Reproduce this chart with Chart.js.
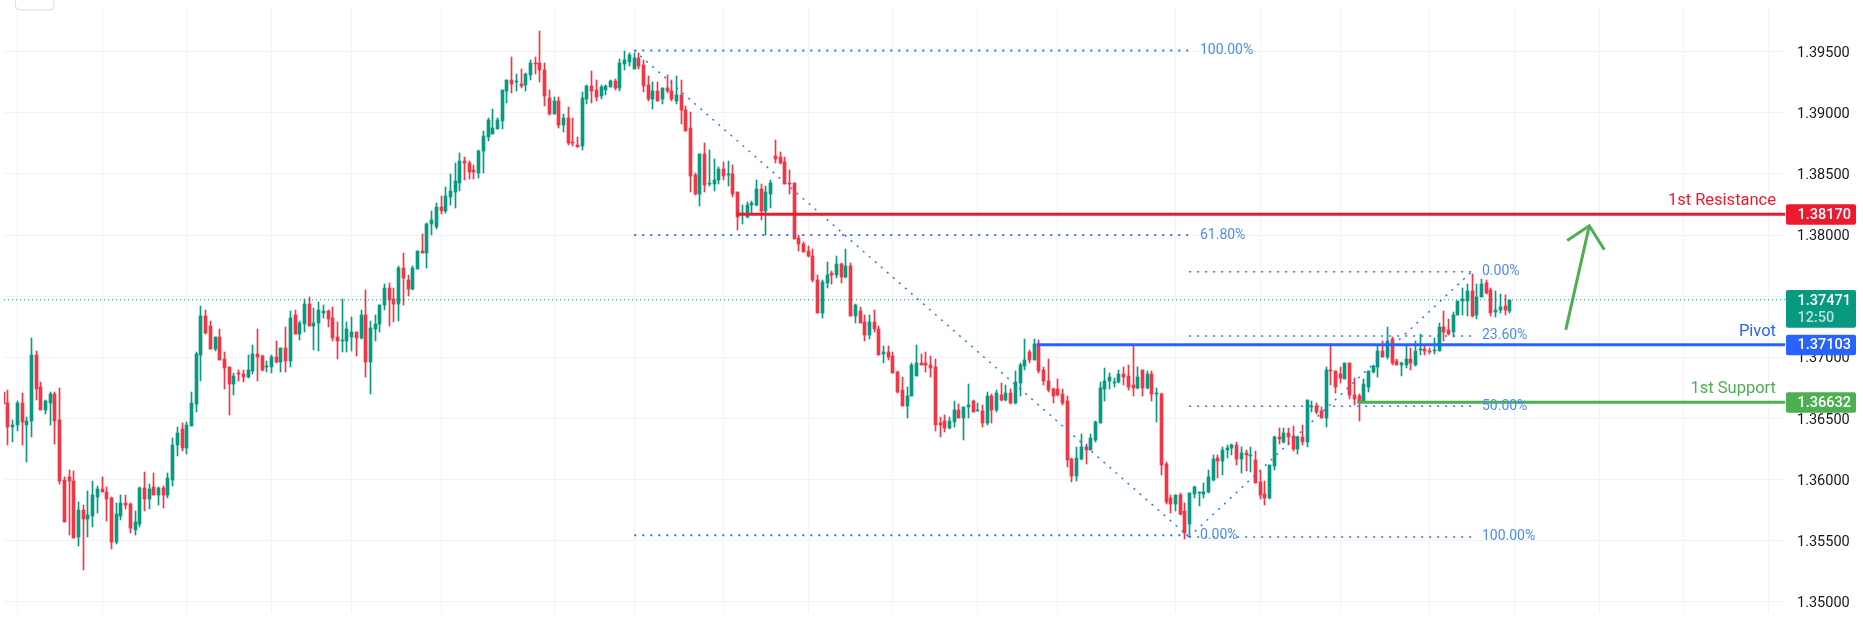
<!DOCTYPE html>
<html>
<head>
<meta charset="utf-8">
<title>Candles</title>
<script src="https://cdn.jsdelivr.net/npm/chart.js@4"></script>
<style>
html, body { margin: 0; background: #fff; }
canvas { display: block; }
</style>
</head>
<body>
<canvas id="myChart" width="1863" height="620"></canvas>
<script>
// prices in pips, divided by 10000 when the chart is built
var highs = [
13672,13673,13649,13664,13671,13651,13716,13705,13680,13665,
13672,13672,13675,13602,13608,13607,13582,13579,13591,13599,
13595,13602,13594,13586,13581,13587,13587,13581,13574,13594,
13606,13596,13605,13594,13595,13605,13634,13643,13646,13647,
13672,13704,13742,13739,13730,13717,13723,13704,13692,13687,
13690,13690,13702,13710,13723,13702,13697,13702,13713,13708,
13725,13738,13739,13730,13748,13749,13740,13745,13743,13739,
13741,13729,13748,13729,13733,13721,13739,13755,13730,13735,
13743,13760,13761,13757,13775,13785,13767,13775,13787,13801,
13810,13820,13826,13832,13839,13850,13859,13867,13864,13861,
13857,13870,13885,13896,13903,13896,13919,13927,13946,13932,
13936,13933,13943,13946,13967,13941,13919,13913,13913,13899,
13905,13896,13880,13917,13923,13934,13927,13923,13923,13927,
13928,13944,13951,13949,13949,13949,13943,13930,13925,13925,
13920,13931,13927,13930,13927,13906,13901,13851,13866,13875,
13870,13862,13856,13860,13861,13857,13835,13825,13827,13828,
13845,13842,13840,13845,13878,13868,13864,13853,13843,13800,
13794,13791,13789,13767,13763,13778,13771,13783,13777,13789,
13777,13744,13741,13735,13735,13739,13726,13709,13709,13704,
13689,13684,13676,13695,13710,13703,13704,13701,13699,13651,
13653,13651,13664,13662,13659,13678,13665,13663,13661,13672,
13670,13673,13679,13677,13674,13689,13695,13715,13706,13715,
13714,13692,13699,13675,13682,13674,13668,13618,13627,13637,
13629,13637,13648,13680,13691,13687,13683,13690,13692,13694,
13711,13692,13690,13689,13689,13675,13671,13614,13587,13587,
13589,13581,13589,13595,13590,13597,13608,13620,13620,13627,
13628,13629,13631,13627,13624,13627,13623,13607,13599,13612,
13636,13642,13642,13642,13644,13636,13645,13665,13664,13663,
13659,13692,13711,13689,13692,13695,13695,13683,13670,13682,
13689,13694,13709,13713,13725,13717,13699,13696,13710,13708,
13713,13719,13710,13708,13716,13728,13738,13731,13737,13746,
13757,13760,13768,13760,13764,13763,13757,13754,13752,13751,13747];
var opens = [
13672,13663,13643,13645,13663,13645,13648,13702,13676,13657,
13663,13670,13649,13600,13602,13599,13553,13575,13568,13570,
13586,13592,13590,13585,13549,13570,13581,13580,13559,13564,
13593,13584,13594,13587,13593,13587,13600,13628,13641,13626,
13644,13662,13702,13734,13726,13707,13717,13699,13692,13678,
13687,13686,13684,13689,13703,13701,13692,13692,13700,13696,
13708,13697,13735,13719,13727,13744,13726,13728,13736,13738,
13732,13717,13713,13713,13717,13721,13716,13735,13696,13723,
13727,13743,13757,13748,13744,13773,13763,13756,13772,13787,
13785,13809,13807,13823,13820,13831,13835,13843,13861,13859,
13853,13851,13869,13880,13883,13887,13893,13918,13927,13925,
13924,13923,13931,13941,13941,13935,13912,13899,13910,13890,
13896,13876,13874,13873,13911,13922,13919,13914,13919,13921,
13926,13920,13940,13942,13936,13945,13939,13923,13911,13918,
13911,13920,13918,13910,13915,13902,13888,13849,13834,13866,
13842,13842,13845,13854,13849,13850,13835,13817,13815,13825,
13825,13838,13820,13834,13865,13864,13860,13843,13843,13798,
13793,13787,13783,13763,13736,13761,13769,13767,13776,13766,
13775,13734,13738,13729,13718,13729,13723,13703,13704,13701,
13688,13673,13660,13668,13685,13695,13695,13694,13692,13646,
13648,13642,13647,13657,13650,13659,13664,13656,13656,13646,
13668,13657,13669,13665,13671,13663,13679,13693,13704,13698,
13710,13690,13681,13674,13674,13670,13664,13617,13603,13617,
13627,13624,13632,13646,13674,13681,13679,13680,13686,13685,
13677,13675,13690,13675,13686,13670,13670,13613,13585,13580,
13587,13574,13564,13588,13589,13588,13590,13600,13618,13615,
13624,13626,13628,13617,13622,13619,13616,13598,13588,13585,
13611,13635,13631,13638,13636,13625,13635,13631,13659,13660,
13656,13650,13690,13689,13686,13682,13695,13669,13668,13664,
13676,13688,13692,13705,13700,13715,13697,13694,13694,13699,
13694,13706,13707,13705,13705,13705,13725,13722,13721,13735,
13746,13746,13754,13735,13749,13761,13755,13737,13739,13742,13738];
var closes = [
13662,13643,13645,13663,13647,13648,13702,13674,13657,13664,
13670,13648,13599,13565,13599,13552,13575,13568,13571,13587,
13592,13590,13584,13549,13572,13581,13579,13560,13565,13593,
13584,13592,13587,13593,13587,13601,13628,13638,13626,13645,
13663,13703,13734,13720,13707,13717,13698,13691,13678,13685,
13686,13684,13690,13703,13700,13690,13693,13700,13696,13708,
13697,13732,13719,13728,13744,13726,13728,13739,13738,13731,
13716,13713,13714,13723,13721,13716,13735,13696,13724,13727,
13743,13757,13747,13744,13773,13765,13756,13773,13787,13785,
13809,13812,13823,13820,13832,13836,13844,13861,13859,13852,
13852,13869,13881,13894,13888,13894,13919,13927,13924,13926,
13922,13932,13941,13940,13935,13914,13899,13910,13890,13896,
13875,13875,13872,13912,13922,13918,13913,13921,13922,13926,
13920,13941,13943,13947,13945,13938,13922,13911,13918,13910,
13920,13918,13911,13915,13902,13885,13848,13834,13866,13841,
13843,13845,13854,13848,13850,13834,13815,13818,13825,13826,
13838,13820,13835,13843,13862,13859,13842,13842,13797,13793,
13786,13783,13763,13736,13762,13767,13767,13776,13766,13775,
13734,13743,13728,13718,13729,13723,13702,13704,13700,13687,
13672,13660,13668,13694,13695,13694,13694,13691,13645,13645,
13642,13648,13657,13650,13659,13661,13655,13657,13646,13668,
13657,13671,13665,13671,13663,13680,13694,13698,13698,13711,
13689,13681,13673,13668,13669,13663,13616,13603,13618,13627,
13624,13634,13647,13675,13681,13684,13680,13686,13684,13676,
13675,13684,13675,13686,13670,13671,13612,13582,13580,13587,
13572,13556,13589,13594,13590,13590,13602,13617,13615,13624,
13626,13628,13617,13622,13620,13620,13597,13587,13585,13612,
13635,13633,13638,13635,13625,13635,13631,13665,13660,13655,
13650,13690,13689,13676,13683,13695,13669,13666,13664,13678,
13689,13693,13705,13700,13713,13695,13694,13695,13699,13695,
13705,13707,13705,13704,13706,13725,13721,13719,13735,13746,
13748,13754,13734,13749,13760,13753,13736,13739,13741,13739,13747];
var lows = [
13662,13628,13631,13640,13628,13614,13635,13665,13657,13654,
13645,13629,13596,13565,13555,13552,13546,13526,13553,13561,
13573,13590,13566,13543,13547,13567,13576,13556,13555,13561,
13574,13576,13587,13579,13577,13585,13595,13619,13623,13621,
13644,13655,13681,13719,13707,13705,13698,13674,13653,13669,
13681,13680,13683,13686,13681,13689,13688,13687,13695,13688,
13688,13692,13719,13714,13721,13726,13706,13705,13732,13725,
13713,13699,13704,13704,13705,13701,13715,13684,13670,13713,
13721,13739,13726,13729,13730,13743,13750,13755,13772,13785,
13773,13800,13805,13817,13818,13825,13822,13836,13845,13846,
13846,13847,13851,13877,13883,13887,13887,13908,13916,13918,
13920,13918,13927,13932,13925,13906,13898,13899,13888,13884,
13874,13873,13872,13870,13907,13908,13910,13911,13915,13921,
13919,13918,13935,13938,13936,13936,13917,13910,13903,13910,
13907,13916,13910,13907,13891,13885,13835,13833,13824,13835,
13840,13836,13842,13845,13840,13831,13804,13809,13814,13817,
13824,13812,13800,13822,13859,13858,13842,13834,13797,13787,
13786,13782,13762,13736,13732,13757,13760,13765,13761,13765,
13734,13728,13728,13713,13715,13721,13702,13695,13698,13687,
13671,13660,13650,13668,13685,13694,13688,13684,13640,13635,
13639,13641,13643,13650,13632,13650,13655,13656,13643,13645,
13646,13655,13664,13664,13662,13662,13668,13690,13695,13698,
13687,13677,13672,13663,13668,13661,13610,13598,13599,13616,
13613,13624,13631,13646,13664,13674,13676,13679,13677,13673,
13668,13674,13668,13674,13664,13647,13604,13580,13573,13574,
13571,13551,13555,13585,13578,13585,13589,13599,13601,13604,
13618,13620,13612,13605,13607,13606,13597,13584,13579,13584,
13608,13629,13630,13628,13623,13621,13628,13627,13655,13654,
13650,13643,13677,13671,13679,13682,13666,13661,13648,13664,
13672,13687,13684,13700,13699,13694,13694,13685,13691,13690,
13693,13702,13702,13703,13703,13705,13713,13718,13717,13735,
13735,13734,13733,13731,13749,13752,13734,13733,13736,13735,13736];

var priceTicks = [1.35, 1.355, 1.36, 1.365, 1.37, 1.375, 1.38, 1.385, 1.39, 1.395];
var gridCandles = [3, 21, 39, 57, 74, 93, 117, 134, 153, 171, 189, 207, 224, 249, 267, 284, 303, 321, 339, 357, 375];

var lastPrice = 1.37471;
var countdown = '12:50';
var resistance = 1.3817;
var pivot = 1.37103;
var support = 1.36632;

var fibLevelsA = [1.3951, 1.38, 1.35545];
var fibLabelsA = ['100.00%', '61.80%', '0.00%'];
var fibLevelsB = [1.377, 1.37175, 1.366, 1.3553];
var fibLabelsB = ['0.00%', '23.60%', '50.00%', '100.00%'];

var arrowX = [331.9, 336.9];
var arrowY = [1.37225, 1.38076];
var arrowHeadX = [332.2, 336.9, 340.1];
var arrowHeadY = [1.37956, 1.38076, 1.3788];

var UP = '#089981', DOWN = '#f23645', BLUE = '#2962ff', RED = '#ec1a2e', GREEN = '#4caf50', FIB = '#2f73f6';
var FONT = '"Roboto", sans-serif';

var xMin = 0.17, xMax = 378.47;

var wickData = [], bodyData = [], candleColors = [];
for (var i = 0; i < highs.length; i++) {
    wickData.push({x: i, y: [lows[i] / 10000, highs[i] / 10000]});
    bodyData.push({x: i, y: [opens[i] / 10000, closes[i] / 10000]});
    candleColors.push(closes[i] >= opens[i] ? UP : DOWN);
}

function lineSet(xs, ys, color, width, dash) {
    var pts = [];
    for (var i = 0; i < xs.length; i++) {
        pts.push({x: xs[i], y: ys[i]});
    }
    return {
        type: 'line', data: pts, borderColor: color, borderWidth: width, borderDash: dash || [],
        pointRadius: 0, tension: 0, fill: false, order: 1, borderCapStyle: 'butt'
    };
}

var datasets = [
    {type: 'bar', data: wickData, backgroundColor: candleColors, barThickness: 1, grouped: false, order: 5},
    {type: 'bar', data: bodyData, backgroundColor: candleColors, barThickness: 3, grouped: false, order: 4},
    lineSet([xMin, xMax], [lastPrice, lastPrice], UP, 1, [1, 3]),
    lineSet([155.8, xMax], [resistance, resistance], RED, 3),
    lineSet([219.5, xMax], [pivot, pivot], BLUE, 3),
    lineSet([287.6, xMax], [support, support], GREEN, 3),
    lineSet([134.05, 251.9], [fibLevelsA[0], fibLevelsB[3]], FIB, 1.5, [2, 6]),
    lineSet([251.9, 311.9], [fibLevelsB[3], fibLevelsB[0]], FIB, 1.5, [2, 6]),
    lineSet(arrowX, arrowY, GREEN, 3),
    lineSet(arrowHeadX, arrowHeadY, GREEN, 3)
];
fibLevelsA.forEach(function (p) {
    datasets.push(lineSet([134.05, 251.7], [p, p], FIB, 2, [2, 6]));
});
fibLevelsB.forEach(function (p) {
    datasets.push(lineSet([251.9, 311.9], [p, p], FIB, 1.5, [2, 6]));
});

// keeps candles on whole pixels, like the original
var snapBars = {
    id: 'snapBars',
    beforeDatasetDraw: function (chart, args) {
        if (args.meta.type !== 'bar') {
            return;
        }
        args.meta.data.forEach(function (el) {
            el.x = Math.floor(el.x) + 0.5;
            el.y = Math.round(el.y);
            el.base = Math.round(el.base);
            if (el.y === el.base) {
                el.base = el.y + 1;
            }
        });
    }
};

function priceTag(ctx, y, color, text) {
    ctx.fillStyle = color;
    ctx.beginPath();
    ctx.roundRect(1786, y - 10, 70, 20.5, 2);
    ctx.fill();
    ctx.fillStyle = '#fff';
    ctx.textAlign = 'left';
    ctx.textBaseline = 'middle';
    ctx.font = '500 14.5px ' + FONT;
    ctx.fillText(text, 1797.5, y + 1);
}

var overlay = {
    id: 'overlay',
    afterDraw: function (chart) {
        var ctx = chart.ctx, sx = chart.scales.x, sy = chart.scales.y;
        ctx.save();

        // corner of the toolbar button
        ctx.strokeStyle = '#d9dbe0';
        ctx.beginPath();
        ctx.roundRect(15.5, -6, 38.5, 16, 4);
        ctx.stroke();

        ctx.font = '14px ' + FONT;
        ctx.fillStyle = '#4d8bf5';
        ctx.textAlign = 'left';
        ctx.textBaseline = 'middle';
        fibLevelsA.forEach(function (p, i) {
            ctx.fillText(fibLabelsA[i], sx.getPixelForValue(254.2), sy.getPixelForValue(p));
        });
        fibLevelsB.forEach(function (p, i) {
            ctx.fillText(fibLabelsB[i], sx.getPixelForValue(314.1), sy.getPixelForValue(p));
        });

        ctx.font = '16.5px ' + FONT;
        ctx.textAlign = 'right';
        ctx.textBaseline = 'alphabetic';
        ctx.fillStyle = RED;
        ctx.fillText('1st Resistance', 1776, sy.getPixelForValue(resistance) - 9);
        ctx.fillStyle = BLUE;
        ctx.fillText('Pivot', 1776, sy.getPixelForValue(pivot) - 9);
        ctx.fillStyle = GREEN;
        ctx.fillText('1st Support', 1776, sy.getPixelForValue(support) - 9);

        var lastY = sy.getPixelForValue(lastPrice);
        ctx.fillStyle = UP;
        ctx.beginPath();
        ctx.roundRect(1786, lastY - 9.7, 70, 37.7, 2);
        ctx.fill();
        ctx.textAlign = 'left';
        ctx.textBaseline = 'middle';
        ctx.font = '500 14.5px ' + FONT;
        ctx.fillStyle = '#fff';
        ctx.fillText(lastPrice.toFixed(5), 1797.5, lastY + 1.5);
        ctx.fillStyle = 'rgba(255,255,255,0.7)';
        ctx.fillText(countdown, 1797.5, lastY + 18.5);

        priceTag(ctx, sy.getPixelForValue(resistance), RED, resistance.toFixed(5));
        priceTag(ctx, sy.getPixelForValue(pivot), BLUE, pivot.toFixed(5));
        priceTag(ctx, sy.getPixelForValue(support), GREEN, support.toFixed(5));
        ctx.restore();
    }
};

new Chart(document.getElementById('myChart'), {
    data: {datasets: datasets},
    plugins: [snapBars, overlay],
    options: {
        responsive: false,
        animation: false,
        layout: {padding: {left: 4, top: 8, right: 0, bottom: 7}},
        plugins: {legend: {display: false}, tooltip: {enabled: false}},
        scales: {
            x: {
                type: 'linear',
                offset: false,
                min: xMin,
                max: xMax,
                grid: {color: '#f2f3f5', drawTicks: false, offset: false},
                border: {display: false},
                ticks: {display: false},
                afterBuildTicks: function (s) {
                    s.ticks = gridCandles.map(function (v) { return {value: v}; });
                }
            },
            y: {
                position: 'right',
                min: 1.34908,
                max: 1.39858,
                grid: {color: '#f2f3f5', drawTicks: false},
                border: {display: false},
                afterFit: function (s) {
                    // no room kept for half a tick label above and below the plot
                    s.width = 78;
                    s.paddingTop = 0;
                    s.paddingBottom = 0;
                },
                afterBuildTicks: function (s) {
                    s.ticks = priceTicks.map(function (v) { return {value: v}; });
                },
                ticks: {
                    padding: 12,
                    labelOffset: 1.5,
                    color: '#131722',
                    font: {family: 'Roboto', size: 14.5},
                    callback: function (v) { return v.toFixed(5); }
                }
            }
        }
    }
});
</script>
</body>
</html>
